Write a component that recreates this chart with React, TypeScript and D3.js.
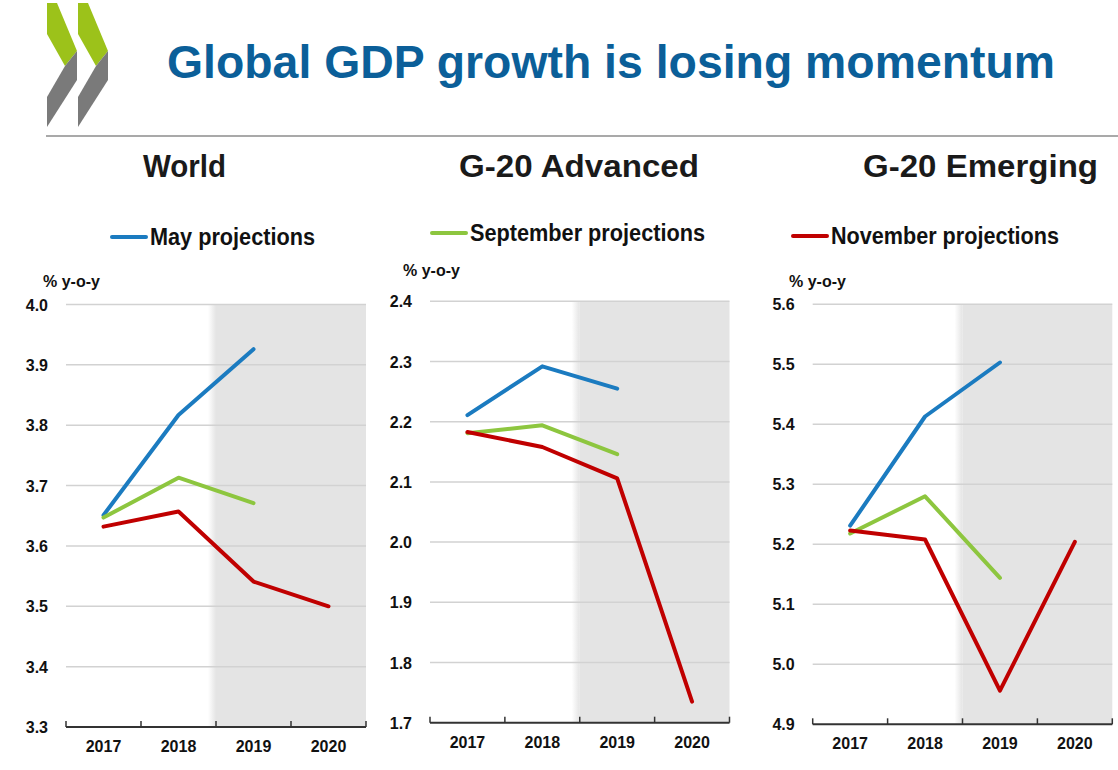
import React from "react";
import * as d3 from "d3";

const years = ["2017", "2018", "2019", "2020"];
const seriesNames = ["May projections", "September projections", "November projections"];
const seriesColors = ["#1b7bc0", "#8dc63f", "#c00000"];

const worldMay = [3.651, 3.817, 3.926, null];
const worldSep = [3.647, 3.713, 3.671, null];
const worldNov = [3.632, 3.657, 3.541, 3.5];

const advMay = [2.211, 2.292, 2.255, null];
const advSep = [2.181, 2.194, 2.146, null];
const advNov = [2.183, 2.158, 2.106, 1.735];

const emgMay = [5.231, 5.413, 5.503, null];
const emgSep = [5.218, 5.28, 5.144, null];
const emgNov = [5.223, 5.208, 4.956, 5.204];

const worldTicks = [3.3, 3.4, 3.5, 3.6, 3.7, 3.8, 3.9, 4.0];
const advTicks = [1.7, 1.8, 1.9, 2.0, 2.1, 2.2, 2.3, 2.4];
const emgTicks = [4.9, 5.0, 5.1, 5.2, 5.3, 5.4, 5.5, 5.6];

const panelTitles = ["World", "G-20 Advanced", "G-20 Emerging"];
const mainTitle = "Global GDP growth is losing momentum";
const unitLabel = "% y-o-y";

const FONT = "'Liberation Sans', Arial, Helvetica, sans-serif";

type Panel = {
  title: string;
  series: (number | null)[][];
  ticks: number[];
  x0: number;
  x1: number;
  yTop: number;
  yBot: number;
  titleX: number;
  titleW: number;
  unitX: number;
  unitY: number;
  legend: { idx: number; lx: number; ly: number; tw: number };
};

const panels: Panel[] = [
  {
    title: panelTitles[0],
    series: [worldMay, worldSep, worldNov],
    ticks: worldTicks,
    x0: 66, x1: 366, yTop: 304.5, yBot: 727,
    titleX: 143, titleW: 83,
    unitX: 43, unitY: 287,
    legend: { idx: 0, lx: 112, ly: 237, tw: 165 },
  },
  {
    title: panelTitles[1],
    series: [advMay, advSep, advNov],
    ticks: advTicks,
    x0: 430, x1: 729.5, yTop: 301.3, yBot: 722.7,
    titleX: 459, titleW: 240,
    unitX: 403, unitY: 276,
    legend: { idx: 1, lx: 432, ly: 233, tw: 235 },
  },
  {
    title: panelTitles[2],
    series: [emgMay, emgSep, emgNov],
    ticks: emgTicks,
    x0: 812.7, x1: 1112.3, yTop: 304.3, yBot: 724.3,
    titleX: 863, titleW: 235,
    unitX: 789, unitY: 287,
    legend: { idx: 2, lx: 793, ly: 236, tw: 228 },
  },
];

function ChartPanel({ p, i }: { p: Panel; i: number }) {
  const x = d3.scaleBand<string>().domain(years).range([p.x0, p.x1]).padding(0);
  const y = d3
    .scaleLinear()
    .domain([p.ticks[0], p.ticks[p.ticks.length - 1]])
    .range([p.yBot, p.yTop]);
  const line = d3
    .line<number | null>()
    .defined((d) => d != null)
    .x((_, j) => (x(years[j]) as number) + x.bandwidth() / 2)
    .y((d) => y(d as number));
  const shadeX = x(years[2]) as number;
  const boundaries = years.map((yr) => x(yr) as number).concat([p.x1]);
  const gid = `fade${i}`;
  return (
    <g>
      <defs>
        <linearGradient id={gid} x1="0" x2="1" y1="0" y2="0">
          <stop offset="0" stopColor="#e4e4e4" stopOpacity={0} />
          <stop offset="1" stopColor="#e4e4e4" stopOpacity={1} />
        </linearGradient>
      </defs>
      <rect x={shadeX} y={p.yTop} width={p.x1 - shadeX} height={p.yBot - p.yTop} fill="#e4e4e4" />
      <rect x={shadeX - 8} y={p.yTop} width={8} height={p.yBot - p.yTop} fill={`url(#${gid})`} />
      {p.ticks.slice(1).map((t) => (
        <line key={t} x1={p.x0} x2={p.x1} y1={y(t)} y2={y(t)} stroke="#d2d2d2" strokeWidth={1.5} />
      ))}
      {p.ticks.map((t) => (
        <text
          key={"l" + t}
          x={p.x0 - 18}
          y={y(t) + 6}
          textAnchor="end"
          fontFamily={FONT}
          fontWeight="bold"
          fontSize={16}
          fill="#111"
        >
          {t.toFixed(1)}
        </text>
      ))}
      <line x1={p.x0} x2={p.x1} y1={p.yBot} y2={p.yBot} stroke="#333" strokeWidth={2} />
      {boundaries.map((bx, k) => (
        <line key={"t" + k} x1={bx} x2={bx} y1={p.yBot} y2={p.yBot - 6} stroke="#333" strokeWidth={1.5} />
      ))}
      {years.map((yr) => (
        <text
          key={yr}
          x={(x(yr) as number) + x.bandwidth() / 2}
          y={p.yBot + 25}
          textAnchor="middle"
          fontFamily={FONT}
          fontWeight="bold"
          fontSize={16}
          fill="#111"
        >
          {yr}
        </text>
      ))}
      {p.series.map((s, k) => (
        <path
          key={"s" + k}
          d={line(s) || ""}
          fill="none"
          stroke={seriesColors[k]}
          strokeWidth={4}
          strokeLinejoin="round"
          strokeLinecap="round"
        />
      ))}
      <text x={p.unitX} y={p.unitY} fontFamily={FONT} fontWeight="bold" fontSize={16} fill="#111">
        {unitLabel}
      </text>
      <text
        x={p.titleX}
        y={177}
        fontFamily={FONT}
        fontWeight="bold"
        fontSize={31}
        fill="#1a1a1a"
        textLength={p.titleW}
        lengthAdjust="spacingAndGlyphs"
      >
        {p.title}
      </text>
      <line
        x1={p.legend.lx}
        x2={p.legend.lx + 34}
        y1={p.legend.ly}
        y2={p.legend.ly}
        stroke={seriesColors[p.legend.idx]}
        strokeWidth={4}
        strokeLinecap="round"
      />
      <text
        x={p.legend.lx + 38}
        y={p.legend.ly + 8}
        fontFamily={FONT}
        fontWeight="bold"
        fontSize={23}
        fill="#111"
        textLength={p.legend.tw}
        lengthAdjust="spacingAndGlyphs"
      >
        {seriesNames[p.legend.idx]}
      </text>
    </g>
  );
}

function Logo() {
  const chevron = (dx: number) => (
    <g key={dx} transform={`translate(${dx},0)`}>
      <polygon points="47,3 57,3 77,51 65,66 47,34" fill="#9cc21a" />
      <polygon points="65,66 77,51 77,80 47,127 47,97" fill="#7a7a7a" />
    </g>
  );
  return <g>{[0, 31].map((d) => chevron(d))}</g>;
}

export default function App() {
  return (
    <svg
      width={1118}
      height={770}
      style={{ position: "absolute", left: 0, top: 0, background: "#fff" }}
    >
      <rect x={0} y={0} width={1118} height={770} fill="#fff" />
      <Logo />
      <text
        x={167}
        y={78}
        fontFamily={FONT}
        fontWeight="bold"
        fontSize={47}
        fill="#0b5f99"
        textLength={888}
        lengthAdjust="spacingAndGlyphs"
      >
        {mainTitle}
      </text>
      <line x1={46} x2={1118} y1={136} y2={136} stroke="#8c8c8c" strokeWidth={1.5} />
      {panels.map((p, i) => (
        <ChartPanel key={i} p={p} i={i} />
      ))}
    </svg>
  );
}
